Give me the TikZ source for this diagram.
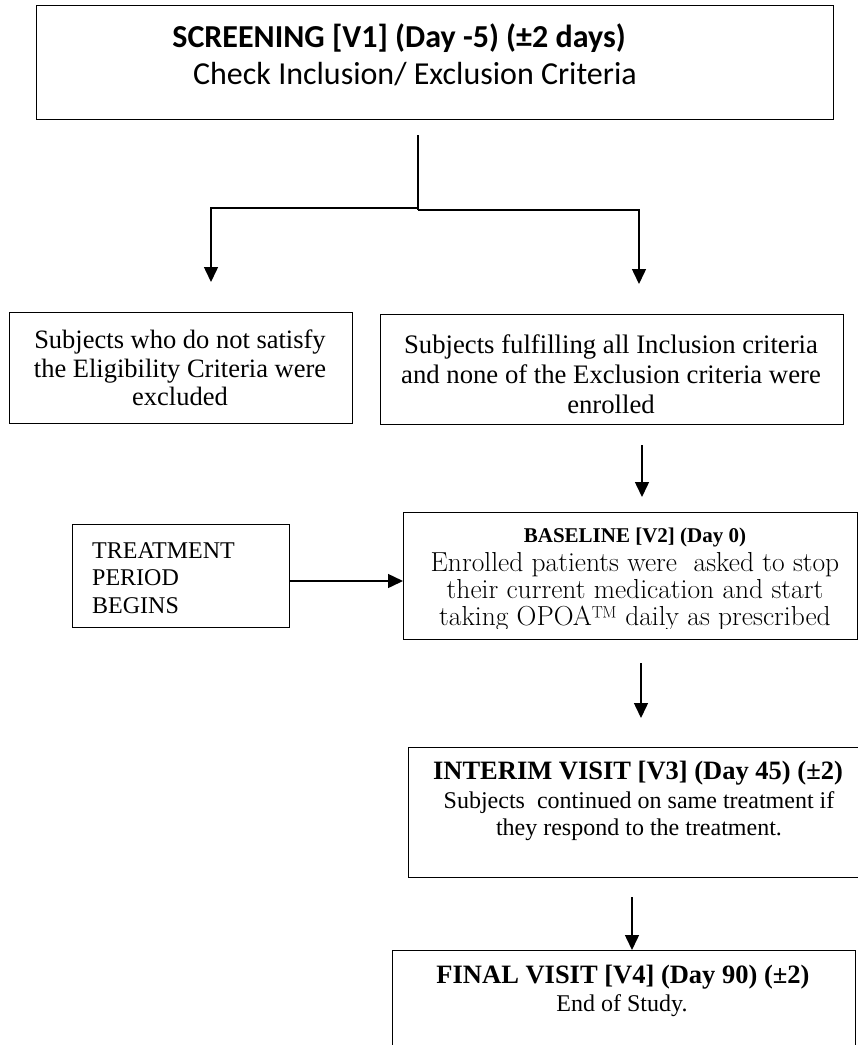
\documentclass[tikz,border=0pt]{standalone}
\usepackage{fontspec}
\setmainfont{Liberation Serif}
\newfontfamily\calib{Carlito}
\newfontfamily\lmr{Latin Modern Roman}
\usetikzlibrary{arrows.meta}
\begin{document}
\begin{tikzpicture}[x=1pt,y=-1pt,
  box/.style={draw, line width=1.4pt, inner sep=0pt, anchor=north west},
  txt/.style={inner sep=0pt, align=center},
  ln/.style={line width=1.5pt},
  arr/.style={line width=1.5pt, -{Triangle[width=14pt,length=15pt]}}]
\clip (0,0) rectangle (858,1045);
\useasboundingbox (0,0) rectangle (858,1045);
% boxes
\node[box, minimum width=797pt, minimum height=114pt] (scr) at (36,5) {};
\node[box, minimum width=343pt, minimum height=111pt] (exc) at (9,312) {};
\node[box, minimum width=463pt, minimum height=110pt] (enr) at (380,314) {};
\node[box, minimum width=454pt, minimum height=127pt] (bas) at (403,512) {};
\node[box, minimum width=217pt, minimum height=103pt] (trt) at (72,524) {};
\node[box, minimum width=460pt, minimum height=130pt] (int) at (408,747) {};
\node[box, minimum width=463pt, minimum height=130pt] (fin) at (392,950) {};
% texts
\node[txt, font=\calib\bfseries\fontsize{32}{36}\selectfont] (scr1) at (399,38) {SCREENING [V1] (Day -5) (±2 days)};
\node[txt, font=\calib\fontsize{32}{36}\selectfont] (scr2) at (415,74) {Check Inclusion/ Exclusion Criteria};
\node[txt, font=\fontsize{26.5}{28.5}\selectfont] (exct) at (180,368) {Subjects who do not satisfy\\the Eligibility Criteria were\\excluded};
\node[txt, font=\fontsize{26.7}{30}\selectfont] (enrt) at (611,374) {Subjects fulfilling all Inclusion criteria\\and none of the Exclusion criteria were\\enrolled};
\node[txt, font=\bfseries\fontsize{21}{24}\selectfont] (bast) at (635,537) {BASELINE [V2] (Day 0)};
\begin{scope}
\clip (403,520) rectangle (858,628);
\node[txt, font=\lmr\fontsize{27.5}{27}\selectfont] (basb) at (635,592) {Enrolled patients were\ \ asked to stop\\their current medication and start\\taking OPOA\texttrademark{} daily as prescribed};
\end{scope}
\node[txt, align=left, anchor=west, font=\fontsize{24}{27.5}\selectfont] (trtt) at (92,578) {TREATMENT\\PERIOD\\BEGINS};
\node[txt, font=\bfseries\fontsize{26.5}{30}\selectfont] (intt) at (638,773) {INTERIM VISIT [V3] (Day 45) (±2)};
\node[txt, font=\fontsize{24}{27}\selectfont] (intb) at (639,816.5) {Subjects\ \ continued on same treatment if\\they respond to the treatment.};
\node[txt, font=\bfseries\fontsize{26.5}{30}\selectfont] (fint) at (623,977) {FINAL VISIT [V4] (Day 90) (±2)};
\node[txt, font=\fontsize{24}{27}\selectfont] (finb) at (622,1006) {End of Study.};
% connectors
\coordinate (jt) at (418,135);
\coordinate (jml) at (418,208);
\coordinate (jmr) at (418,210);
\coordinate (jl) at (211,208);
\coordinate (jr) at (639,210);
\draw[ln] (jt) -- (jmr);
\draw[arr] (jml) -- (jl) -- (jl |- 0,282);
\draw[arr] (jmr) -- (jr) -- (jr |- 0,284);
\coordinate (xa) at (642,0);
\coordinate (xb) at (641,0);
\coordinate (xc) at (632,0);
\coordinate (ya) at (0,581);
\draw[arr, shorten <=20pt, shorten >=15pt] (enr.south -| xa) -- (bas.north -| xa);
\draw[arr, shorten <=23pt, shorten >=29pt] (bas.south -| xb) -- (int.north -| xb);
\draw[arr, shorten <=19pt] (int.south -| xc) -- (fin.north -| xc);
\draw[arr] (trt.east |- ya) -- (bas.west |- ya);
\end{tikzpicture}
\end{document}
